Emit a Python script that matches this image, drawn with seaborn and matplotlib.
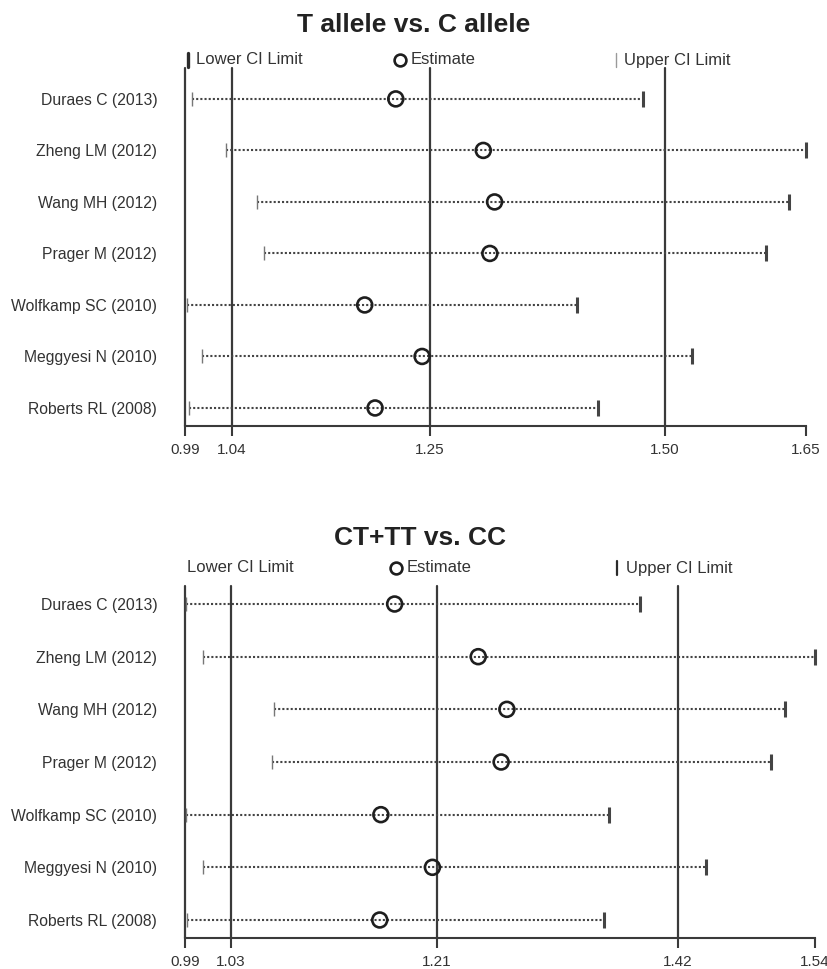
import matplotlib
matplotlib.use("Agg")
import matplotlib.pyplot as plt
from matplotlib.lines import Line2D
import numpy as np
import pandas as pd
import seaborn as sns

# ---- data -------------------------------------------------------------
studies = ["Duraes C (2013)", "Zheng LM (2012)", "Wang MH (2012)", "Prager M (2012)",
           "Wolfkamp SC (2010)", "Meggyesi N (2010)", "Roberts RL (2008)"]

# T allele vs. C allele
allele_lower = [0.997, 1.034, 1.067, 1.074, 0.992, 1.008, 0.994]
allele_est = [1.214, 1.307, 1.319, 1.314, 1.181, 1.242, 1.192]
allele_upper = [1.477, 1.650, 1.632, 1.607, 1.407, 1.529, 1.429]
allele_ticks = [0.99, 1.04, 1.25, 1.50, 1.65]
allele_ticklabels = ["0.99", "1.04", "1.25", "1.50", "1.65"]

# CT+TT vs. CC
dom_lower = [0.991, 1.006, 1.068, 1.066, 0.991, 1.006, 0.992]
dom_est = [1.173, 1.246, 1.271, 1.266, 1.161, 1.206, 1.160]
dom_upper = [1.387, 1.540, 1.514, 1.502, 1.360, 1.445, 1.356]
dom_ticks = [0.99, 1.03, 1.21, 1.42, 1.54]
dom_ticklabels = ["0.99", "1.03", "1.21", "1.42", "1.54"]

# ---- style ------------------------------------------------------------
sns.set_theme(style="white")
plt.rcParams["font.family"] = ["Liberation Sans", "DejaVu Sans"]

W, H = 828, 969
fig = plt.figure(figsize=(W / 100, H / 100), dpi=100)

DARK = "#2b2b2b"
LINE = "#3a3a3a"
TEXT = "#333333"


def fx(px):
    return px / W


def fy(py):
    return 1 - py / H


def forest(ax, lower, est, upper, ticks, ticklabels, ylim):
    df = pd.DataFrame({"study": studies, "pos": np.arange(len(studies)),
                       "lower": lower, "est": est, "upper": upper})
    # reference verticals (left boundary and inner ticks)
    for t in ticks[:-1]:
        ax.axvline(t, color=LINE, lw=1.6, zorder=1, clip_on=False)
    # dotted CI lines
    ax.hlines(df["pos"], df["lower"], df["upper"], colors="#444444",
              linestyles=(0, (1.0, 1.0)), lw=1.5, zorder=2)
    # CI caps: thin lower, heavier upper
    ax.scatter(df["lower"], df["pos"], marker="|", s=110, color="#777777",
               linewidths=1.0, zorder=3, clip_on=False)
    ax.scatter(df["upper"], df["pos"], marker="|", s=130, color="#444444",
               linewidths=2.2, zorder=3, clip_on=False)
    # point estimates
    sns.scatterplot(data=df, x="est", y="pos", ax=ax, marker="o", s=115,
                    facecolor="none", edgecolor="#1e1e1e", linewidth=1.9,
                    zorder=4, legend=False)
    ax.set_xlim(ticks[0], ticks[-1])
    ax.set_ylim(*ylim)
    ax.set_xticks(ticks)
    ax.set_xticklabels(ticklabels, fontsize=11, color=TEXT)
    ax.set_yticks(df["pos"])
    ax.set_yticklabels(df["study"], fontsize=11.3, color=TEXT)
    ax.tick_params(axis="y", length=0, pad=20)
    ax.tick_params(axis="x", direction="out", length=7.5, width=1.5,
                   color=LINE, pad=5, bottom=True)
    for s in ("top", "right", "left"):
        ax.spines[s].set_visible(False)
    ax.spines["bottom"].set_color(LINE)
    ax.spines["bottom"].set_linewidth(1.5)
    ax.set_xlabel("")
    ax.set_ylabel("")
    ax.grid(False)
    ax.patch.set_alpha(0)


def legend_row(y, x_low_bar, x_low_txt, low_bar_style, x_est, x_est_txt,
               x_up_bar, x_up_txt, up_bar_style):
    if low_bar_style is not None:
        fig.add_artist(Line2D([fx(x_low_bar)] * 2, [fy(y + 7), fy(y - 7)],
                              transform=fig.transFigure, **low_bar_style))
    fig.text(fx(x_low_txt), fy(y), "Lower CI Limit", fontsize=12, color=TEXT,
             ha="left", va="center")
    fig.add_artist(Line2D([fx(x_est)], [fy(y)], marker="o", markersize=8.5,
                          markerfacecolor="none", markeredgecolor="#1e1e1e",
                          markeredgewidth=1.9, transform=fig.transFigure))
    fig.text(fx(x_est_txt), fy(y), "Estimate", fontsize=12, color=TEXT,
             ha="left", va="center")
    fig.add_artist(Line2D([fx(x_up_bar)] * 2, [fy(y + 7), fy(y - 7)],
                          transform=fig.transFigure, **up_bar_style))
    fig.text(fx(x_up_txt), fy(y), "Upper CI Limit", fontsize=12, color=TEXT,
             ha="left", va="center")


# ---- top panel --------------------------------------------------------
ax1 = fig.add_axes([fx(185), fy(426), fx(806) - fx(185), fy(68) - fy(426)])
forest(ax1, allele_lower, allele_est, allele_upper, allele_ticks,
       allele_ticklabels, (6.35, -0.6))
fig.text(fx(414), fy(25), "T allele vs. C allele", fontsize=19,
         fontweight="bold", color="#222222", ha="center", va="center")
legend_row(60, 188, 196, dict(color=DARK, lw=2.4), 400, 411,
           616, 624, dict(color="#9a9a9a", lw=1.0))

# ---- bottom panel -----------------------------------------------------
ax2 = fig.add_axes([fx(185), fy(938), fx(815) - fx(185), fy(586) - fy(938)])
forest(ax2, dom_lower, dom_est, dom_upper, dom_ticks, dom_ticklabels,
       (6.342, -0.342))
fig.text(fx(420), fy(538), "CT+TT vs. CC", fontsize=19,
         fontweight="bold", color="#222222", ha="center", va="center")
legend_row(568, 186, 187, None, 396, 407,
           617, 626, dict(color=DARK, lw=1.6))

fig.savefig("out.png", dpi=100, facecolor="white")
